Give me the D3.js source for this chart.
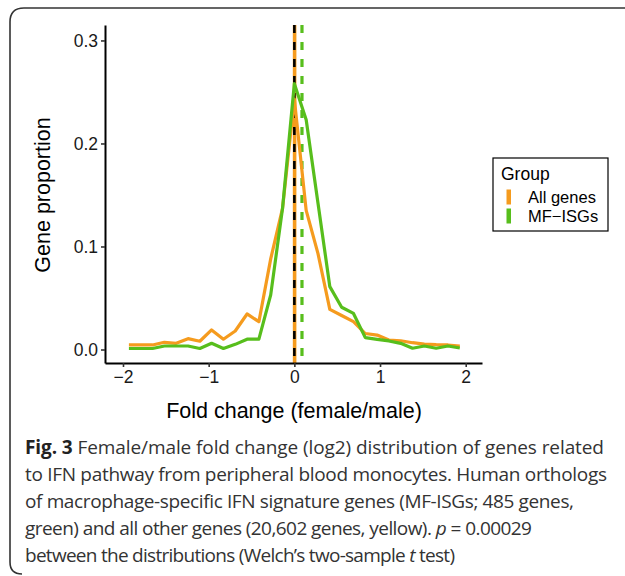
<!DOCTYPE html>
<html>
<head>
<meta charset="utf-8">
<script src="https://cdn.jsdelivr.net/npm/d3@7"></script>
<style>
  body { margin: 0; background: #fff; }
  svg { display: block; }
</style>
</head>
<body>
<svg id="chart" width="625" height="576"></svg>
<script>
// -- data -- //
const binCenters = [-1.931, -1.793, -1.655, -1.517, -1.379, -1.241, -1.103, -0.966, -0.828, -0.690,
                    -0.552, -0.414, -0.276, -0.138, 0, 0.138, 0.276, 0.414, 0.552, 0.690,
                    0.828, 0.966, 1.103, 1.241, 1.379, 1.517, 1.655, 1.793, 1.931];
const allGenes = [0.0044, 0.0044, 0.0044, 0.007, 0.006, 0.0105, 0.008, 0.019, 0.010, 0.018,
                  0.0345, 0.027, 0.088, 0.137, 0.243, 0.135, 0.093, 0.039, 0.033, 0.027,
                  0.0155, 0.014, 0.0092, 0.0085, 0.0066, 0.0053, 0.0047, 0.0044, 0.0034];
const mfIsgs = [0.001, 0.001, 0.001, 0.0034, 0.0034, 0.0034, 0.001, 0.006, 0.001, 0.005,
                0.010, 0.010, 0.053, 0.137, 0.258, 0.223, 0.142, 0.061, 0.041, 0.035,
                0.0115, 0.0099, 0.0083, 0.006, 0.0012, 0.0034, 0.0012, 0.0034, 0.0015];
const groupNames = ["All genes", "MF\u2212ISGs"];
const groupMeans = [0.003, 0.089];
const xTicks = [-2, -1, 0, 1, 2];
const yTicks = [0, 0.1, 0.2, 0.3];
const captionLines = [
  [["b", "Fig. 3"], ["n", " Female/male fold change (log2) distribution of genes related"]],
  [["n", "to IFN pathway from peripheral blood monocytes. Human orthologs"]],
  [["n", "of macrophage-specific IFN signature genes (MF-ISGs; 485 genes,"]],
  [["n", "green) and all other genes (20,602 genes, yellow). "], ["i", "p"], ["n", " = 0.00029"]],
  [["n", "between the distributions (Welch\u2019s two-sample "], ["i", "t"], ["n", " test)"]]
];
const captionWidths = [579, 582, 549, 507, 430];

const colors = ["#F59B1E", "#57BE1C"];
const svg = d3.select("#chart");
const sans = "'Liberation Sans', Arial, sans-serif";

// -- frame round figure + caption -- //
svg.append("path")
  .attr("d", "M640,8 L24,8 Q10,8 10,22 L10,562 Q10,574 22,574")
  .attr("fill", "none")
  .attr("stroke", "#333")
  .attr("stroke-width", 1.6);

// -- scales -- //
const xScale = d3.scaleLinear().domain([-2.21, 2.19]).range([105, 482]);
const yScale = d3.scaleLinear().domain([-0.0131, 0.315]).range([363, 25]);

const plot = svg.append("g");

// -- mean lines -- //
plot.append("line")
  .attr("x1", xScale(groupMeans[0])).attr("x2", xScale(groupMeans[0]))
  .attr("y1", 25).attr("y2", 363)
  .style("stroke", colors[0]).style("stroke-width", 3.6);
plot.append("line")
  .attr("x1", xScale(0)).attr("x2", xScale(0))
  .attr("y1", 25).attr("y2", 363)
  .style("stroke", "#000").style("stroke-width", 2.6)
  .style("stroke-dasharray", "8,9");
plot.append("line")
  .attr("x1", xScale(groupMeans[1])).attr("x2", xScale(groupMeans[1]))
  .attr("y1", 25).attr("y2", 363)
  .style("stroke", colors[1]).style("stroke-width", 3.2)
  .style("stroke-dasharray", "8,9");

// -- frequency polygons -- //
const line = d3.line()
  .x((d, i) => xScale(binCenters[i]))
  .y(d => yScale(d));

[allGenes, mfIsgs].forEach((series, k) => {
  plot.append("path")
    .datum(series)
    .attr("d", line)
    .attr("fill", "none")
    .style("stroke", colors[k])
    .style("stroke-width", 3.2)
    .style("stroke-linejoin", "round");
});

// -- axes -- //
const xAxis = d3.axisBottom(xScale).tickValues(xTicks).tickSize(4).tickSizeOuter(0).tickPadding(4)
  .tickFormat(d3.format("d"));
const yAxis = d3.axisLeft(yScale).tickValues(yTicks).tickSize(4).tickSizeOuter(0).tickPadding(3)
  .tickFormat(d3.format(".1f"));

const gx = svg.append("g").attr("transform", "translate(0,363)").call(xAxis);
const gy = svg.append("g").attr("transform", "translate(105,0)").call(yAxis);

[gx, gy].forEach(g => {
  g.select(".domain").style("stroke", "#000").style("stroke-width", 2);
  g.selectAll(".tick line").style("stroke", "#333").style("stroke-width", 1.6);
  g.selectAll(".tick text")
    .style("font-family", sans)
    .style("font-size", "17.5px")
    .style("fill", "#1a1a1a");
});

// -- axis titles -- //
svg.append("text")
  .attr("x", 294).attr("y", 418)
  .attr("text-anchor", "middle")
  .style("font-family", sans)
  .style("font-size", "21.5px")
  .text("Fold change (female/male)");
svg.append("text")
  .attr("transform", "translate(50,195) rotate(-90)")
  .attr("text-anchor", "middle")
  .style("font-family", sans)
  .style("font-size", "21.5px")
  .text("Gene proportion");

// -- legend -- //
const legend = svg.append("g").attr("transform", "translate(493,158)");
legend.append("rect")
  .attr("width", 115).attr("height", 73)
  .attr("fill", "#fff").attr("stroke", "#000").attr("stroke-width", 1.2);
legend.append("text")
  .attr("x", 8).attr("y", 22)
  .style("font-family", sans)
  .style("font-size", "17.5px")
  .text("Group");
groupNames.forEach((name, k) => {
  legend.append("rect")
    .attr("x", 13.5).attr("y", 31.5 + k * 19)
    .attr("width", 4.5).attr("height", 15)
    .attr("fill", colors[k]);
  legend.append("text")
    .attr("x", 35).attr("y", 45 + k * 19)
    .style("font-family", sans)
    .style("font-size", "16.5px")
    .text(name);
});

// -- caption: stretch each line to its width with letter spacing -- //
const caption = svg.append("g")
  .style("font-family", "'Open Sans', 'Noto Sans', sans-serif")
  .style("font-size", "19px")
  .style("fill", "#333");
captionLines.forEach((parts, r) => {
  const t = caption.append("text")
    .attr("x", 25).attr("y", 454 + r * 27);
  parts.forEach(([kind, str]) => {
    const s = t.append("tspan").text(str);
    if (kind === "b") s.style("font-weight", "bold").style("fill", "#222");
    if (kind === "i") s.style("font-style", "italic");
  });
  const natural = t.node().getComputedTextLength();
  const nChars = parts.map(p => p[1]).join("").length;
  t.style("letter-spacing", ((captionWidths[r] - natural) / (nChars - 1)) + "px");
});
</script>
</body>
</html>
